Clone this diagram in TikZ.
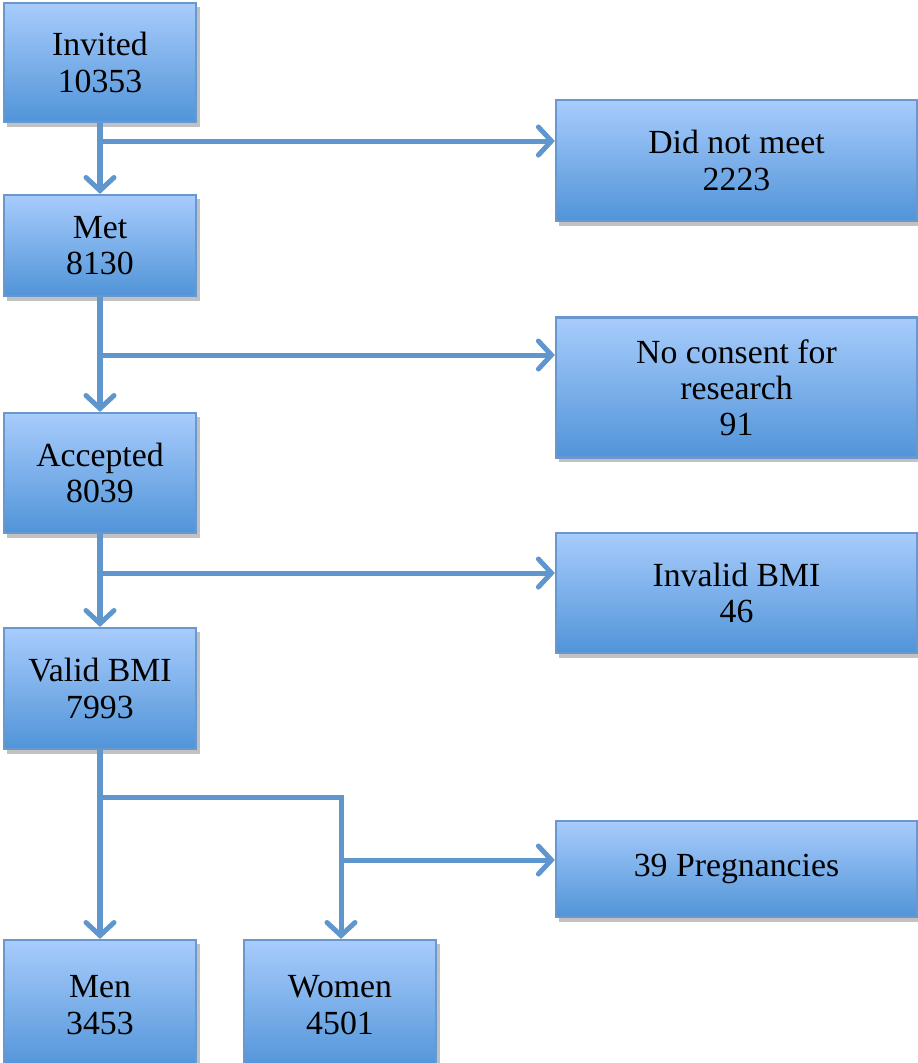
\documentclass[tikz,border=0pt]{standalone}
\usepackage{fontspec}
\setmainfont{Liberation Serif}
\usetikzlibrary{arrows.meta,shadows}
\definecolor{boxtop}{RGB}{168,204,252}
\definecolor{boxbot}{RGB}{80,148,216}
\definecolor{boxline}{RGB}{104,152,206}
\definecolor{conn}{RGB}{96,150,206}
\tikzset{
  fbox/.style={draw=boxline, line width=0.6pt, top color=boxtop, bottom color=boxbot,
    inner sep=0pt, align=center, font=\fontsize{9.6}{10.3}\selectfont,
    drop shadow={shadow xshift=0.035cm, shadow yshift=-0.045cm, opacity=0.35, fill=black!70}},
  lbox/.style={fbox, minimum width=1.92cm},
  rbox/.style={fbox, minimum width=3.61cm},
  conn/.style={draw=conn, line width=0.05cm, -{Straight Barb[length=1.3mm,width=2.8mm,line cap=round]}},
  cline/.style={draw=conn, line width=0.05cm}
}
\begin{document}
\begin{tikzpicture}[x=0.01cm,y=-0.01cm]
\useasboundingbox (0,0) rectangle (918,1063);
% left column
\node[lbox, minimum height=1.19cm] (inv) at (100,62.5) {Invited\\10353};
\node[lbox, minimum height=1.01cm] (met) at (100,245.5) {Met\\8130};
\node[lbox, minimum height=1.20cm] (acc) at (100,473) {Accepted\\8039};
\node[lbox, minimum height=1.21cm] (vb) at (100,688.5) {Valid BMI\\7993};
\node[lbox, minimum height=1.30cm] (men) at (100,1005) {Men\\3453};
\node[lbox, minimum height=1.30cm] (wom) at (340,1005) {Women\\4501};
% right column
\node[rbox, minimum height=1.21cm] (dnm) at (736.5,160.5) {Did not meet\\2223};
\node[rbox, minimum height=1.40cm] (nc) at (736.5,387.5) {No consent for\\research\\91};
\node[rbox, minimum height=1.20cm] (ib) at (736.5,593) {Invalid BMI\\46};
\node[rbox, minimum height=0.96cm] (preg) at (736.5,869) {39 Pregnancies};
% branch points
\coordinate (b1) at (100,141);
\coordinate (b2) at (100,355);
\coordinate (b3) at (100,573);
\coordinate (b4) at (100,797);
\coordinate (b4r) at (341,797);
\coordinate (b5) at (341,860);
% connectors
\draw[conn] (inv.south) -- (met.north);
\draw[conn] (b1) -- (b1 -| dnm.west);
\draw[conn] (met.south) -- (acc.north);
\draw[conn] (b2) -- (b2 -| nc.west);
\draw[conn] (acc.south) -- (vb.north);
\draw[conn] (b3) -- (b3 -| ib.west);
\draw[conn] (vb.south) -- (men.north);
\draw[conn] (b4) -- (b4r) -- (b4r |- wom.north);
\draw[conn] (b5) -- (b5 -| preg.west);
\end{tikzpicture}
\end{document}
